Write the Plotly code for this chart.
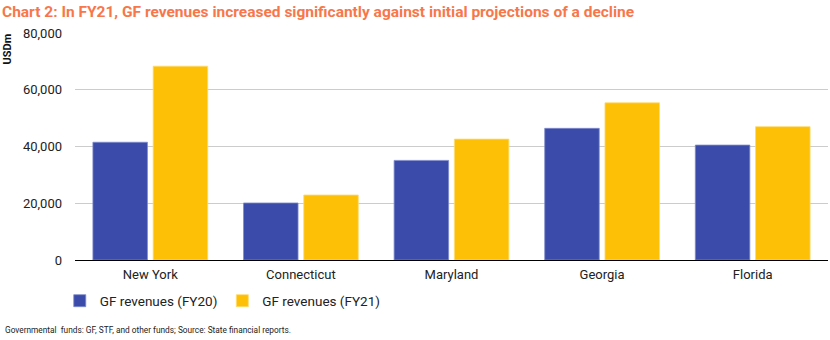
import plotly.graph_objects as go

states = ["New York", "Connecticut", "Maryland", "Georgia", "Florida"]
gf_fy20 = [41500, 20100, 35100, 46400, 40500]
gf_fy21 = [68300, 22900, 42600, 55400, 47000]
series_names = ["GF revenues (FY20)", "GF revenues (FY21)"]
y_ticks = [0, 20000, 40000, 60000, 80000]
y_tick_labels = ["0", "20,000", "40,000", "60,000", "80,000"]

BLUE = "#3A4BAA"
AMBER = "#FDC006"
FONT = "Roboto"

fig = go.Figure()
fig.add_trace(go.Bar(x=states, y=gf_fy20, name=series_names[0],
                     marker=dict(color=BLUE, line=dict(color="#7f8acb", width=0.8))))
fig.add_trace(go.Bar(x=states, y=gf_fy21, name=series_names[1],
                     marker=dict(color=AMBER, line=dict(color="#ffdc6e", width=0.8))))

fig.update_layout(
    width=830, height=340,
    margin=dict(l=75, r=2, t=33, b=80, autoexpand=False),
    paper_bgcolor="white", plot_bgcolor="white",
    font=dict(family=FONT, size=13, color="#222222"),
    barmode="group", bargap=0.2, bargroupgap=0.095,
    showlegend=True,
    legend=dict(orientation="h", xref="container", yref="container",
                x=0.072, y=0.115, xanchor="left", yanchor="middle",
                font=dict(size=13.5, color="#222222"), itemwidth=30,
                traceorder="normal"),
    hovermode=False,
)
fig.update_xaxes(showgrid=False, showline=False, ticks="", tickfont=dict(size=13),
                 ticklabelstandoff=5, automargin=False)
fig.update_yaxes(range=[0, 80000], tickvals=y_ticks, ticktext=y_tick_labels,
                 showgrid=True, gridcolor="#cccccc", gridwidth=1,
                 zeroline=True, zerolinecolor="#000000", zerolinewidth=1.2,
                 showline=False, ticks="", ticklabelstandoff=12,
                 tickfont=dict(size=13), automargin=False)

fig.add_annotation(text="<b>Chart 2: In FY21, GF revenues increased significantly against initial projections of a decline</b>",
                   xref="paper", yref="paper", x=-75/753, y=1, yshift=32,
                   xanchor="left", yanchor="top", showarrow=False,
                   font=dict(family=FONT, size=15.5, color="#F7774B"))
fig.add_annotation(text="<b>USDm</b>", textangle=-90,
                   xref="paper", yref="paper", x=-68/753, y=1, yshift=1,
                   xanchor="center", yanchor="top", showarrow=False,
                   font=dict(family=FONT, size=11, color="#111111"))
fig.add_annotation(text="Governmental  funds: GF, STF, and other funds; Source: State financial reports.",
                   xref="paper", yref="paper", x=-72/753, y=0, yshift=-63,
                   xanchor="left", yanchor="top", showarrow=False,
                   font=dict(family=FONT, size=8.3, color="#222222"))

fig.write_html("out.html")
